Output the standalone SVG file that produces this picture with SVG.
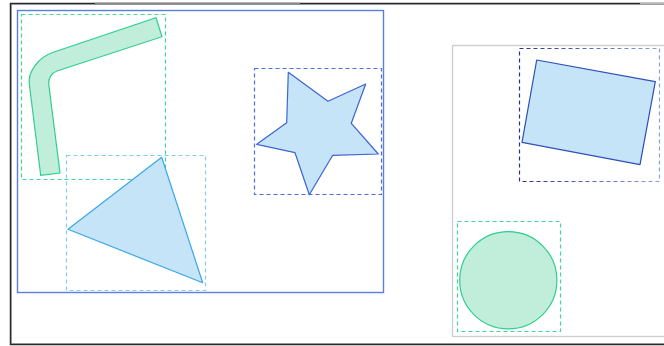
<svg xmlns="http://www.w3.org/2000/svg" width="664" height="346" viewBox="0 0 664 346">
<defs>
<style>
.dash{fill:none;stroke-width:1.2;stroke-dasharray:4 3}
.green{fill:#c0eedb;stroke:#2ecf8e;stroke-width:1.2}
.blue{fill:#c6e4f8;stroke-width:1.2;stroke-linejoin:round}
</style>
<linearGradient id="dg" x1="0" y1="0" x2="1" y2="0">
<stop offset="0" stop-color="#25348a"/>
<stop offset="1" stop-color="#8aa2e0"/>
</linearGradient>
</defs>
<rect width="664" height="346" fill="#fff"/>
<g id="frame">
<rect x="11.5" y="4.5" width="670" height="339" fill="none" stroke="#bbb" stroke-width="1"/>
<rect x="10.5" y="3.5" width="672" height="341" fill="none" stroke="#2a2a2a" stroke-width="1.5"/>
<line x1="95" y1="3.5" x2="300" y2="3.5" stroke="#888" stroke-width="1.5"/>
<line x1="640" y1="3.5" x2="664" y2="3.5" stroke="#bbb" stroke-width="1.5"/>
</g>
<g id="left-container">
<rect x="17.5" y="10.5" width="366" height="282" fill="none" stroke="#5b7fdb" stroke-width="1.4"/>
</g>
<g id="bar">
<rect class="dash" x="21.5" y="14.5" width="144" height="165" stroke="#3dd6a0"/>
<path class="green" d="M40.7,175.3 L29.3,84 C27.8,71.5 38.5,57.3 53.3,52.3 L156,17.7 L162,36.7 L57,71 C51.8,72.8 48,78.6 48.7,84 L60,173 Z"/>
</g>
<g id="triangle">
<rect class="dash" x="66.5" y="155.5" width="139" height="135" stroke="#86ccf2"/>
<polygon class="blue" stroke="#3aa8e8" points="161.7,157.3 68,229.3 202.7,282.7"/>
</g>
<g id="star">
<rect class="dash" x="254.5" y="68.5" width="127" height="126" stroke="#4a6fdc"/>
<polygon class="blue" stroke="#3d63d6" points="288.3,72.3 328,101.3 365.7,84 351.3,123.3 378.3,154 332.7,155.3 309.3,194.7 295,152.7 256.7,144.3 286.7,122.7"/>
</g>
<g id="right-container">
<rect x="452.5" y="45.5" width="220" height="291" fill="none" stroke="#cfcfcf" stroke-width="1.4"/>
</g>
<g id="rectangle">
<rect class="dash" x="519.5" y="48.5" width="140" height="133" stroke="url(#dg)"/>
<polygon class="blue" stroke="#2d4fb8" points="536.7,60 655.3,81.7 640,164.7 522,142.3"/>
</g>
<g id="circle">
<rect class="dash" x="457.5" y="221.5" width="103" height="110" stroke="#3dd6a0"/>
<circle class="green" cx="508.3" cy="280.2" r="48.6"/>
</g>
<g id="connectors"></g>
</svg>
